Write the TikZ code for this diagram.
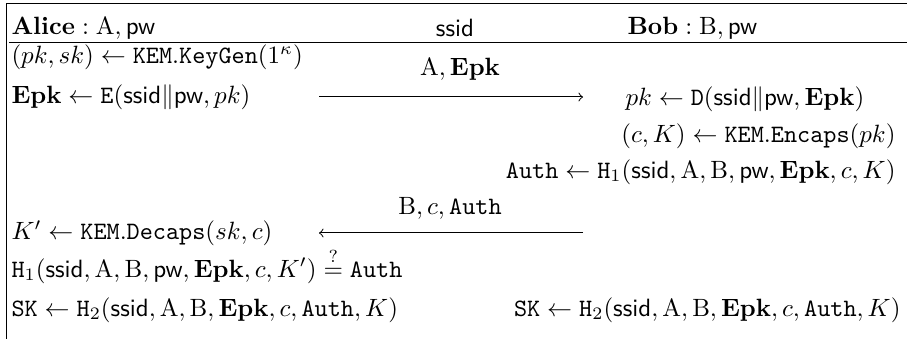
\documentclass[tikz,border=0pt]{standalone}
\usetikzlibrary{positioning}
\newcommand{\sid}{\textsf{ssid}}
\newcommand{\pwd}{\textsf{pw}}
\newcommand{\Epk}{\mathbf{Epk}}
\newcommand{\Auth}{\texttt{Auth}}
\newcommand{\kem}[1]{\texttt{KEM}.\texttt{#1}}
\begin{document}
\begin{tikzpicture}[x=0.4pt,y=-0.4pt,
    lft/.style={anchor=west,inner sep=0pt},
    rgt/.style={anchor=east,inner sep=0pt},
    msg/.style={inner sep=0pt}]
  \useasboundingbox (0,0) rectangle (907,339);
  % frame
  \draw (6,4) -- (907,4);
  \draw (6,4) -- (6,339);
  \draw (9,43) -- (907,43);
  % header
  \node[lft] (alice) at (11,28) {$\textbf{Alice}:\mathrm{A},\pwd$};
  \node[msg] (ssid) at (455,28) {\sid};
  \node[lft] (bob) at (627,28) {$\textbf{Bob}:\mathrm{B},\pwd$};
  % Alice, first flow
  \node[lft] (keygen) at (11,57) {$(pk,sk)\leftarrow\kem{KeyGen}(1^\kappa)$};
  \node[lft] (enc) at (11,97) {$\Epk\leftarrow\texttt{E}(\sid\|\pwd,pk)$};
  \coordinate (a1) at (319,97);
  \coordinate (b1) at (583,97);
  \draw[->] (a1) -- (b1);
  \node[msg] (m1) at (460,69) {$\mathrm{A},\Epk$};
  % Bob
  \node[lft] (dec) at (625,99) {$pk\leftarrow\texttt{D}(\sid\|\pwd,\Epk)$};
  \node[rgt] (encaps) at (896,136) {$(c,K)\leftarrow\kem{Encaps}(pk)$};
  \node[rgt] (auth) at (896,172) {$\Auth\leftarrow\texttt{H}_1(\sid,\mathrm{A},\mathrm{B},\pwd,\Epk,c,K)$};
  \coordinate (b2) at (583,233);
  \coordinate (a2) at (319,233);
  \draw[->] (b2) -- (a2);
  \node[msg] (m2) at (450,208) {$\mathrm{B},c,\Auth$};
  % Alice, second flow
  \node[lft] (decaps) at (11,233) {$K'\leftarrow\kem{Decaps}(sk,c)$};
  \node[lft,anchor=base west] (check) at (11,277) {$\texttt{H}_1(\sid,\mathrm{A},\mathrm{B},\pwd,\Epk,c,K')\stackrel{?}{=}\Auth$};
  \node[lft] (skA) at (11,310) {$\texttt{SK}\leftarrow\texttt{H}_2(\sid,\mathrm{A},\mathrm{B},\Epk,c,\Auth,K)$};
  \node[rgt] (skB) at (901,310) {$\texttt{SK}\leftarrow\texttt{H}_2(\sid,\mathrm{A},\mathrm{B},\Epk,c,\Auth,K)$};
\end{tikzpicture}
\end{document}
